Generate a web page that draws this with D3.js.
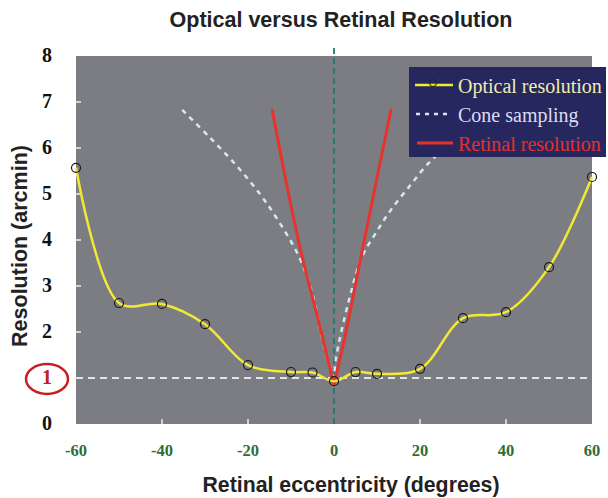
<!DOCTYPE html>
<html><head><meta charset="utf-8">
<script src="https://cdn.jsdelivr.net/npm/d3@7"></script>
<style>body{margin:0;background:#fff}svg{display:block}</style>
</head><body>
<svg id="c" width="608" height="498"></svg>
<script>
// ---- data ----
const opticalX = [-60,-50,-40,-30,-20,-10,-5,0,5,10,20,30,40,50,60];
const opticalY = [5.57,2.63,2.61,2.17,1.28,1.13,1.12,0.93,1.13,1.09,1.2,2.3,2.43,3.41,5.37];
const coneX = [-35.3,-29,-22.8,-17.4,-13.5,-8.1,-5.1,-2.8,0,0.4,3.5,6.5,9.7,13.2,17.4,22,27,35];
const coneY = [6.83,6.24,5.63,5.02,4.5,3.63,2.85,1.89,0.93,1.39,2.7,3.63,4.15,4.65,5.15,5.67,6.1,6.8];
const retinaLeftX = [-14.4,-11,-7.4,-3.5,0];
const retinaLeftY = [6.85,5.2,3.63,2.2,0.85];
const retinaRightX = [0,3,5.8,8.8,13.3];
const retinaRightY = [0.85,2.1,3.41,4.8,6.85];
const xTicks = [-60,-40,-20,0,20,40,60];
const yTicks = [0,1,2,3,4,5,6,7,8];
const legendLabels = ["Optical resolution","Cone sampling","Retinal resolution"];

const svg = d3.select("#c");
const x = d3.scaleLinear().domain([-60,60]).range([76,592]);
const y = d3.scaleLinear().domain([0,8]).range([424,56]);

// title
svg.append("text").attr("x",341).attr("y",27).attr("text-anchor","middle")
  .attr("font-family","Liberation Sans, Arial, sans-serif").attr("font-weight","bold")
  .attr("font-size",21.5).attr("fill","#222").text("Optical versus Retinal Resolution");

// plot background
svg.append("rect").attr("x",x(-60)).attr("y",y(8)).attr("width",x(60)-x(-60)).attr("height",y(0)-y(8))
  .attr("fill","#7c7d82");

// ticks (white small marks)
svg.selectAll(".yt").data(yTicks.filter(d=>d>0&&d<8)).enter().append("line")
  .attr("x1",x(-60)).attr("x2",x(-60)+5).attr("y1",d=>y(d)).attr("y2",d=>y(d))
  .attr("stroke","#eee").attr("stroke-width",1.5);
svg.selectAll(".xt").data(xTicks.filter(d=>d>-60&&d<60&&d!==0)).enter().append("line")
  .attr("x1",d=>x(d)).attr("x2",d=>x(d)).attr("y1",y(0)).attr("y2",y(0)-5)
  .attr("stroke","#eee").attr("stroke-width",1.5);

// y tick labels
svg.selectAll(".yl").data(yTicks).enter().append("text")
  .attr("x",47).attr("y",d=>y(d)+6).attr("text-anchor","middle")
  .attr("font-family","Liberation Serif, Times New Roman, serif").attr("font-weight","bold")
  .attr("font-size",20).attr("fill",d=>d===1?"#b22":"#111").text(d=>d);
svg.append("ellipse").attr("cx",47).attr("cy",y(1)+1).attr("rx",21).attr("ry",15)
  .attr("fill","none").attr("stroke","#c82020").attr("stroke-width",2.5);

// x tick labels
svg.selectAll(".xl").data(xTicks).enter().append("text")
  .attr("x",d=>x(d)).attr("y",456).attr("text-anchor","middle")
  .attr("font-family","Liberation Serif, Times New Roman, serif").attr("font-weight","bold")
  .attr("font-size",16.5).attr("fill","#2e6e35").text(d=>d);

// axis titles
svg.append("text").attr("x",351).attr("y",492).attr("text-anchor","middle")
  .attr("font-family","Liberation Sans, Arial, sans-serif").attr("font-weight","bold")
  .attr("font-size",21.3).attr("fill","#222").text("Retinal eccentricity (degrees)");
svg.append("text").attr("transform","translate(27,246) rotate(-90)").attr("text-anchor","middle")
  .attr("font-family","Liberation Sans, Arial, sans-serif").attr("font-weight","bold")
  .attr("font-size",21.5).attr("fill","#222").text("Resolution (arcmin)");

// reference line at 1
svg.append("line").attr("x1",x(-60)).attr("x2",x(60)).attr("y1",y(1)).attr("y2",y(1))
  .attr("stroke","#e4e4e4").attr("stroke-width",2).attr("stroke-dasharray","7,5");
// vertical line at 0
svg.append("line").attr("x1",x(0)).attr("x2",x(0)).attr("y1",y(8)-8).attr("y2",y(0))
  .attr("stroke","#1f7a70").attr("stroke-width",1.8).attr("stroke-dasharray","6,4");

const line = d3.line().x(d=>x(d[0])).y(d=>y(d[1]));
// cone sampling
const coneL = coneX.map((v,i)=>[v,coneY[i]]).filter(d=>d[0]<=0);
const coneR = coneX.map((v,i)=>[v,coneY[i]]).filter(d=>d[0]>=0);
[coneL, coneR].forEach(pts=>{
  svg.append("path").attr("d",line.curve(d3.curveCatmullRom)(pts)).attr("fill","none")
    .attr("stroke","#d2e8f2").attr("stroke-width",2.5).attr("stroke-dasharray","5,5");
});
// retinal resolution
const redL = retinaLeftX.map((v,i)=>[v,retinaLeftY[i]]);
const redR = retinaRightX.map((v,i)=>[v,retinaRightY[i]]);
[redL, redR].forEach(pts=>{
  svg.append("path").attr("d",line.curve(d3.curveCatmullRom)(pts)).attr("fill","none")
    .attr("stroke","#e8332c").attr("stroke-width",3);
});
// optical resolution
const opt = opticalX.map((v,i)=>[v,opticalY[i]]);
svg.append("path").attr("d",line.curve(d3.curveCatmullRom)(opt)).attr("fill","none")
  .attr("stroke","#f2e935").attr("stroke-width",2.5);
svg.selectAll(".pt").data(opt).enter().append("circle")
  .attr("cx",d=>x(d[0])).attr("cy",d=>y(d[1])).attr("r",4.5)
  .attr("fill","none").attr("stroke","#1a1a1a").attr("stroke-width",1.2);

// legend
const lg = svg.append("g");
lg.append("rect").attr("x",409).attr("y",67).attr("width",197).attr("height",90).attr("fill","#27275f");
const ly = [85,114,143];
lg.append("line").attr("x1",415).attr("x2",453).attr("y1",ly[0]).attr("y2",ly[0]).attr("stroke","#f2e935").attr("stroke-width",2.5);
lg.append("circle").attr("cx",433).attr("cy",ly[0]-2).attr("r",3.5).attr("fill","none").attr("stroke","#222").attr("stroke-width",1);
lg.append("line").attr("x1",416).attr("x2",452).attr("y1",ly[1]).attr("y2",ly[1]).attr("stroke","#d2e8f2").attr("stroke-width",2.5).attr("stroke-dasharray","4,5");
lg.append("line").attr("x1",417).attr("x2",453).attr("y1",ly[2]).attr("y2",ly[2]).attr("stroke","#e8332c").attr("stroke-width",3);
const lc = ["#f0ecb0","#dadcf2","#e3302c"];
lg.selectAll(".lt").data(legendLabels).enter().append("text")
  .attr("x",458).attr("y",(d,i)=>ly[i]+8).attr("font-family","Liberation Serif, Times New Roman, serif")
  .attr("font-size",20).attr("fill",(d,i)=>lc[i]).text(d=>d);
</script>
</body></html>
